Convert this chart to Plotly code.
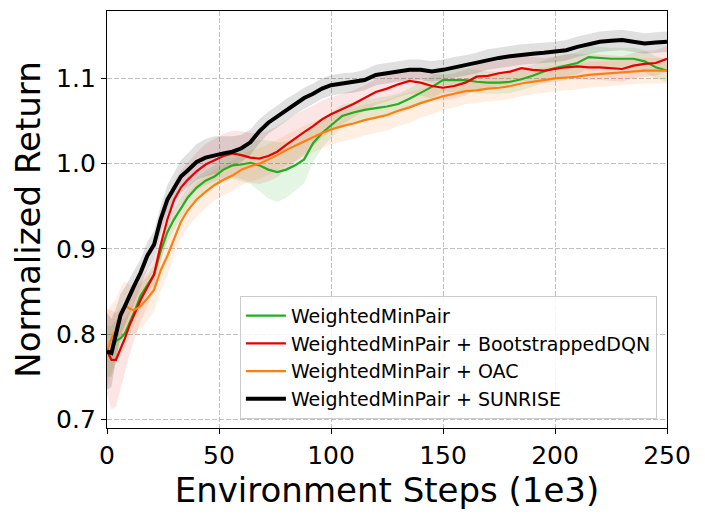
import plotly.graph_objects as go

steps = [0, 2, 4, 6, 8, 10, 12, 15, 18, 21, 24, 27, 30, 33, 36, 40, 44, 48, 52, 56,
         60, 64, 68, 72, 76, 80, 84, 88, 92, 96, 100, 105, 110, 115, 120, 125, 130,
         135, 140, 145, 150, 155, 160, 165, 170, 175, 180, 185, 190, 195, 200, 205,
         210, 215, 220, 225, 230, 235, 240, 245, 250]

wmp_mean = [0.780, 0.780, 0.792, 0.795, 0.801, 0.812, 0.825, 0.845, 0.858, 0.870, 0.898,
            0.920, 0.935, 0.948, 0.960, 0.972, 0.980, 0.985, 0.993, 0.998, 0.999, 1.001,
            0.998, 0.993, 0.990, 0.993, 0.998, 1.005, 1.024, 1.036, 1.045, 1.056, 1.060,
            1.063, 1.065, 1.067, 1.070, 1.076, 1.083, 1.090, 1.098, 1.098, 1.098, 1.096,
            1.095, 1.095, 1.096, 1.099, 1.103, 1.108, 1.112, 1.115, 1.118, 1.125, 1.124,
            1.123, 1.123, 1.123, 1.120, 1.113, 1.109]
wmp_std = [0.030, 0.030, 0.025, 0.020, 0.018, 0.015, 0.014, 0.013, 0.012, 0.012, 0.012,
           0.012, 0.012, 0.012, 0.012, 0.012, 0.012, 0.013, 0.014, 0.016, 0.020, 0.025,
           0.030, 0.034, 0.035, 0.033, 0.030, 0.028, 0.022, 0.018, 0.015, 0.013, 0.012,
           0.012, 0.012, 0.012, 0.012, 0.012, 0.013, 0.013, 0.014, 0.014, 0.014, 0.014,
           0.013, 0.013, 0.013, 0.013, 0.013, 0.013, 0.013, 0.013, 0.013, 0.013, 0.013,
           0.013, 0.013, 0.013, 0.013, 0.013, 0.013]

bdqn_mean = [0.780, 0.770, 0.770, 0.782, 0.795, 0.810, 0.822, 0.840, 0.855, 0.870, 0.905,
             0.935, 0.958, 0.972, 0.981, 0.991, 0.999, 1.004, 1.009, 1.012, 1.010, 1.007,
             1.006, 1.009, 1.014, 1.022, 1.030, 1.037, 1.044, 1.052, 1.058, 1.064, 1.070,
             1.077, 1.084, 1.088, 1.093, 1.097, 1.095, 1.091, 1.089, 1.091, 1.095, 1.102,
             1.103, 1.106, 1.108, 1.112, 1.110, 1.109, 1.111, 1.113, 1.114, 1.113, 1.113,
             1.112, 1.111, 1.115, 1.117, 1.118, 1.123]
bdqn_std = [0.050, 0.058, 0.055, 0.048, 0.040, 0.035, 0.030, 0.025, 0.022, 0.020, 0.020,
            0.020, 0.020, 0.020, 0.020, 0.022, 0.024, 0.025, 0.026, 0.027, 0.028, 0.029,
            0.030, 0.030, 0.030, 0.029, 0.028, 0.026, 0.024, 0.022, 0.020, 0.018, 0.016,
            0.015, 0.015, 0.015, 0.015, 0.015, 0.015, 0.015, 0.015, 0.015, 0.015, 0.015,
            0.015, 0.015, 0.015, 0.015, 0.015, 0.015, 0.015, 0.015, 0.015, 0.015, 0.015,
            0.015, 0.015, 0.015, 0.015, 0.015, 0.015]

oac_mean = [0.780, 0.795, 0.805, 0.825, 0.834, 0.830, 0.828, 0.833, 0.842, 0.852, 0.875,
            0.892, 0.912, 0.932, 0.945, 0.958, 0.967, 0.975, 0.981, 0.986, 0.993, 0.997,
            1.000, 1.005, 1.010, 1.016, 1.021, 1.026, 1.031, 1.036, 1.040, 1.044, 1.047,
            1.051, 1.054, 1.057, 1.062, 1.066, 1.071, 1.075, 1.079, 1.082, 1.085, 1.086,
            1.088, 1.089, 1.091, 1.094, 1.096, 1.098, 1.100, 1.101, 1.102, 1.104, 1.105,
            1.106, 1.107, 1.108, 1.109, 1.109, 1.109]
oac_std = [0.045, 0.040, 0.035, 0.030, 0.028, 0.028, 0.028, 0.027, 0.026, 0.025, 0.024,
           0.022, 0.020, 0.020, 0.020, 0.020, 0.019, 0.018, 0.018, 0.018, 0.018, 0.018,
           0.018, 0.018, 0.018, 0.018, 0.018, 0.018, 0.018, 0.018, 0.018, 0.018, 0.018,
           0.018, 0.018, 0.018, 0.018, 0.018, 0.017, 0.017, 0.016, 0.016, 0.015, 0.015,
           0.015, 0.015, 0.015, 0.015, 0.015, 0.015, 0.015, 0.015, 0.015, 0.015, 0.015,
           0.015, 0.015, 0.015, 0.015, 0.015, 0.015]

sunrise_mean = [0.780, 0.778, 0.800, 0.822, 0.833, 0.845, 0.856, 0.872, 0.892, 0.905, 0.935,
                0.958, 0.972, 0.985, 0.992, 1.002, 1.007, 1.010, 1.012, 1.014, 1.018, 1.025,
                1.038, 1.048, 1.055, 1.063, 1.070, 1.077, 1.082, 1.088, 1.092, 1.094, 1.095,
                1.098, 1.104, 1.106, 1.108, 1.110, 1.110, 1.108, 1.110, 1.113, 1.115, 1.118,
                1.122, 1.124, 1.126, 1.128, 1.129, 1.130, 1.131, 1.133, 1.137, 1.140, 1.143,
                1.144, 1.145, 1.143, 1.141, 1.142, 1.143]
sunrise_std = [0.045, 0.040, 0.030, 0.025, 0.022, 0.020, 0.018, 0.016, 0.016, 0.016, 0.016,
               0.017, 0.018, 0.019, 0.020, 0.021, 0.022, 0.022, 0.020, 0.018, 0.016, 0.015,
               0.014, 0.013, 0.013, 0.013, 0.012, 0.012, 0.012, 0.012, 0.012, 0.012, 0.012,
               0.012, 0.012, 0.012, 0.012, 0.012, 0.012, 0.012, 0.012, 0.012, 0.012, 0.012,
               0.012, 0.012, 0.012, 0.012, 0.012, 0.012, 0.012, 0.012, 0.012, 0.012, 0.012,
               0.012, 0.012, 0.012, 0.012, 0.012, 0.012]

series_names = ["WeightedMinPair", "WeightedMinPair + BootstrappedDQN",
                "WeightedMinPair + OAC", "WeightedMinPair + SUNRISE"]
x_ticks = [0, 50, 100, 150, 200, 250]
y_ticks = [0.7, 0.8, 0.9, 1.0, 1.1]

series = [
    (series_names[0], wmp_mean, wmp_std, "#22ad22", "rgba(34,173,34,0.12)", 2.2),
    (series_names[1], bdqn_mean, bdqn_std, "#e30000", "rgba(227,0,0,0.10)", 2.2),
    (series_names[2], oac_mean, oac_std, "#ff7f0e", "rgba(255,127,14,0.12)", 2.2),
    (series_names[3], sunrise_mean, sunrise_std, "#000000", "rgba(0,0,0,0.12)", 4),
]

fig = go.Figure()
for name, mean, std, color, fillc, w in series:
    upper = [m + s for m, s in zip(mean, std)]
    lower = [m - s for m, s in zip(mean, std)]
    fig.add_trace(go.Scatter(
        x=steps + steps[::-1], y=upper + lower[::-1], fill="toself",
        fillcolor=fillc, line=dict(width=0), mode="lines",
        hoverinfo="skip", showlegend=False))
for name, mean, std, color, fillc, w in series:
    fig.add_trace(go.Scatter(x=steps, y=mean, mode="lines", name=name,
                             line=dict(color=color, width=w)))

axis_common = dict(
    showline=True, linecolor="black", linewidth=1.3, mirror=True,
    ticks="outside", ticklen=5, tickcolor="black", tickwidth=1.2,
    showgrid=True, gridcolor="#c0c0c0", griddash="5px,2px", gridwidth=1,
    zeroline=False, tickfont=dict(size=25, color="black"), automargin=False,
)
fig.update_xaxes(range=[0, 250], tickvals=x_ticks,
                 title=dict(text="Environment Steps (1e3)", font=dict(size=34, color="black"), standoff=4),
                 **axis_common)
fig.update_yaxes(range=[0.69, 1.179], tickvals=y_ticks, tickformat=".1f",
                 title=dict(text="Normalized Return", font=dict(size=34, color="black"), standoff=13),
                 **axis_common)

# the page body adds an 8px offset, compensate in the margins
fig.update_layout(
    width=705, height=518,
    margin=dict(l=99, r=46, t=3, b=98),
    paper_bgcolor="white", plot_bgcolor="white",
    font=dict(family="DejaVu Sans", color="black"),
    legend=dict(x=0.982, y=0.022, xanchor="right", yanchor="bottom",
                bgcolor="rgba(255,255,255,0.85)", bordercolor="#cccccc", borderwidth=1,
                font=dict(size=19, color="black"), tracegroupgap=0, itemwidth=40),
)

fig.write_html("out.html")
